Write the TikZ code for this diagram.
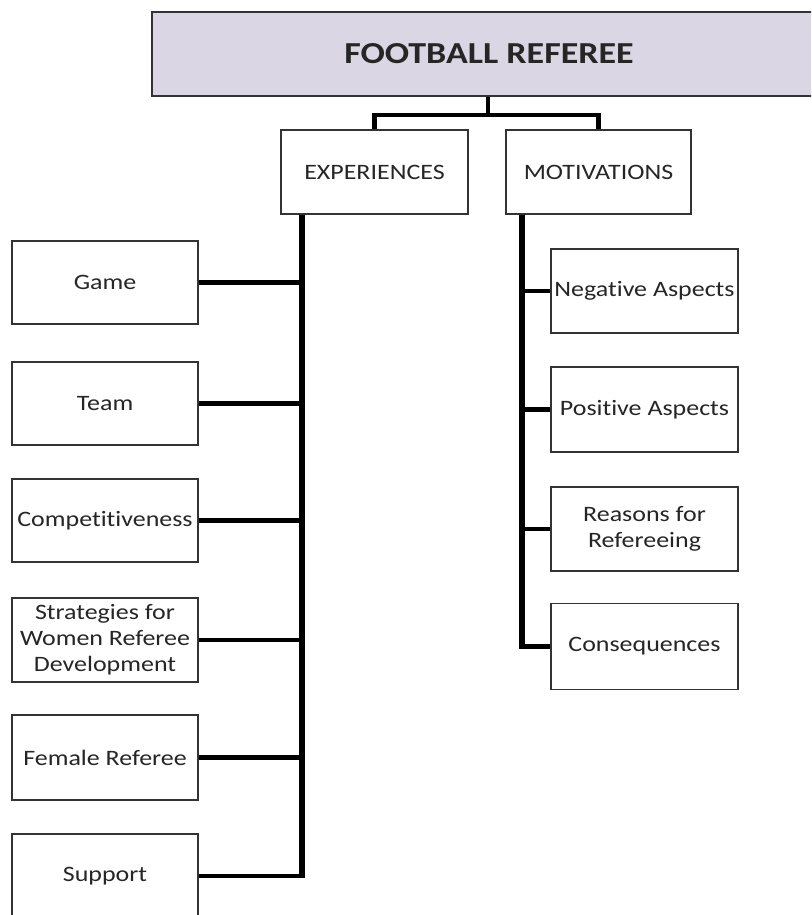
\documentclass[tikz,border=0pt]{standalone}
\usepackage{fontspec}
\setmainfont[FakeStretch=1.18,Ligatures=NoCommon]{Carlito}
\begin{document}
\begin{tikzpicture}[x=1pt,y=-1pt,
  box/.style={draw=black!80, line width=1.4pt, fill=white, text=black!85,
    minimum width=187pt, minimum height=84pt, inner sep=0pt, align=center,
    font=\fontsize{22}{26}\selectfont},
  topbox/.style={box, fill=titlefill, minimum width=674pt,
    font=\bfseries\fontsize{30.5}{34}\selectfont},
  conn/.style={draw=black, line width=4.5pt, line join=miter},
  trunk/.style={draw=black, line width=6pt, line join=miter}]
\definecolor{titlefill}{RGB}{218,214,228}
\clip (0,0) rectangle (811,915);
\fill[white] (0,0) rectangle (811,915);

\node[topbox] (top) at (489,54) {FOOTBALL REFEREE};
\node[box] (exp) at (374.5,172) {EXPERIENCES};
\node[box, minimum width=185pt] (mot) at (598.5,172) {MOTIVATIONS};

\node[box, minimum width=186pt, minimum height=83pt] (game) at (105,282.5) {Game};
\node[box, minimum width=186pt, minimum height=83pt] (team) at (105,403.5) {Team};
\node[box, minimum width=186pt, minimum height=83pt] (comp) at (105,520.5) {Competitiveness};
\node[box, minimum width=186pt, minimum height=84pt] (strat) at (105,640) {Strategies for\\Women Referee\\Development};
\node[box, minimum width=186pt, minimum height=85pt] (fem) at (105,757.5) {Female Referee};
\node[box, minimum width=186pt, minimum height=84pt] (sup) at (105,876) {Support};

\node[box] (neg) at (644.5,291) {Negative Aspects};
\node[box, minimum height=85pt] (pos) at (644.5,409.5) {Positive Aspects};
\node[box] (rea) at (644.5,529) {Reasons for\\Refereeing};
\node[box, minimum height=86pt] (cons) at (644.5,646.5) {Consequences};

\coordinate (j) at (488,115);
\coordinate (lt) at (302,214);
\coordinate (rt) at (522,214);

\draw[conn] (top.south -| j) -- (j);
\draw[conn] (exp.north) -- (exp.north |- j) -- (mot.north |- j) -- (mot.north);

\foreach \n in {game,team,comp,strat,fem}
  \draw[conn] (\n.east) -- (\n.east -| lt);
\draw[trunk] (exp.south -| lt) -- (lt |- sup.east);
\draw[conn] (sup.east) -- ([xshift=3pt]lt |- sup.east);

\foreach \n in {neg,pos,rea}
  \draw[conn] (\n.west) -- (\n.west -| rt);
\draw[trunk] (mot.south -| rt) -- (rt |- cons.west);
\draw[conn] (cons.west) -- ([xshift=-3pt]rt |- cons.west);
\end{tikzpicture}
\end{document}
